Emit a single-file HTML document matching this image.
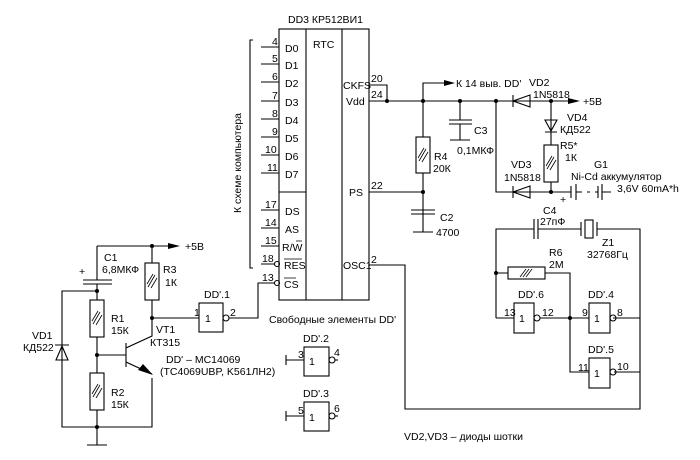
<!DOCTYPE html>
<html><head><meta charset="utf-8"><style>
html,body{margin:0;padding:0;background:#fff;}
svg{display:block}
text{font-family:"Liberation Sans","DejaVu Sans",sans-serif;font-size:10.5px;fill:#000}
</style></head><body>
<svg width="700" height="460" viewBox="0 0 700 460" xmlns="http://www.w3.org/2000/svg">
<defs>
<g id="hatch"><line x1="-4" y1="6" x2="3" y2="-6"/><line x1="-1" y1="7" x2="5" y2="-3"/><line x1="-5" y1="3" x2="1" y2="-7"/></g>
</defs>
<g stroke="#000" stroke-width="1.1" fill="none">
<rect x="279" y="29" width="90" height="271"/>
<line x1="306" y1="29" x2="306" y2="300"/>
<line x1="342" y1="29" x2="342" y2="300"/>
<line x1="279" y1="192" x2="306" y2="192"/>
<path d="M261 47H279M261 64H279M261 82H279M261 101H279M261 119H279M261 137H279M261 155H279M261 173H279M261 210H279M261 228H279M261 246H279M261 264H275M261 283H275"/>
<circle cx="277" cy="264" r="2.5"/><circle cx="277" cy="283" r="2.5"/>
<path d="M253 40H250V268H253"/>
<path d="M369 85H387V101M369 101H551M369 192H423M369 265H405V409H640V372H614"/>
<path d="M423 101V83H444"/>
<path d="M530 95V107L513 101Z M513 95V107"/>
<path d="M551 101H568"/>
<path d="M460 101V120M449 120H472M449 124H472M460 124V140M450 140H470"/>
<path d="M423 101V137M423 173V232"/>
<rect x="416" y="137" width="14" height="36"/>
<path d="M411 210H435M411 214H435M413 232H433"/>
<path d="M496 101V192H551"/>
<path d="M530 186V198L513 192Z M513 186V198"/>
<path d="M551 101V145M545 120H557L551 131ZM545 132H557"/>
<rect x="544" y="145" width="14" height="37"/>
<path d="M551 182V192H571M571 186V198M576 184V200M576 192H582M587 192H590M595 192H598M598 186V198M602 184V200M602 192H611"/>
<path d="M496 318V229H534M534 219V239M538 219V239M538 229H581M581 222V236M597 222V236M597 229H640V372"/>
<rect x="585" y="220" width="8" height="18"/>
<rect x="508" y="267" width="37" height="12"/>
<path d="M496 273H508M545 273H570V372H589"/>
<path d="M496 318H514M540 318H589M613 318H640"/>
<rect x="514" y="303" width="20" height="30"/><circle cx="537" cy="318" r="3"/>
<rect x="589" y="303" width="21" height="30"/><circle cx="613" cy="318" r="3"/>
<rect x="589" y="358" width="21" height="30"/><circle cx="613" cy="372" r="3"/>
<path d="M97 246H168M97 246V280M83 280H112M83 284H112M97 284V300M97 291H62V427H152V378M97 337V373M97 410V445M87 445H107"/>
<rect x="90" y="300" width="14" height="37"/>
<rect x="90" y="373" width="14" height="37"/>
<path d="M152 246V263M152 300V336L126 348M126 343V367M97 355H126M126 362L152 374"/>
<rect x="145" y="263" width="14" height="37"/>
<path d="M62 346L56 360H68Z M55 345H69"/>
<path d="M152 318H199M229 318H258V283H275"/>
<rect x="199" y="303" width="24" height="29"/><circle cx="226" cy="318" r="3"/>
<path d="M286 355V365M286 360H304M286 411V421M286 416H304"/>
<rect x="304" y="347" width="25" height="29"/><circle cx="332" cy="360" r="3"/><path d="M335 360H338"/>
<rect x="304" y="402" width="25" height="29"/><circle cx="332" cy="416" r="3"/><path d="M335 416H338"/>
</g>
<g fill="#000">
<path d="M444 80L455 83L444 86Z"/>
<path d="M568 98L580 101L568 104Z"/>
<path d="M168 243L180 246L168 249Z"/>
<path d="M143 364L153 375L138 370Z"/>
<circle cx="387" cy="101" r="2"/><circle cx="423" cy="101" r="2"/><circle cx="460" cy="101" r="2"/><circle cx="496" cy="101" r="2"/><circle cx="551" cy="101" r="2"/>
<circle cx="423" cy="192" r="2"/><circle cx="551" cy="192" r="2"/>
<circle cx="496" cy="273" r="2"/><circle cx="570" cy="318" r="2"/>
<circle cx="152" cy="246" r="2"/><circle cx="97" cy="291" r="2"/><circle cx="97" cy="355" r="2"/><circle cx="97" cy="427" r="2"/><circle cx="152" cy="318" r="2"/>
</g>
<g stroke="#000" stroke-width="0.8">
<use href="#hatch" x="423" y="155"/><use href="#hatch" x="551" y="163"/>
<use href="#hatch" x="97" y="318"/><use href="#hatch" x="97" y="391"/><use href="#hatch" x="152" y="281"/>
<line x1="520" y1="277" x2="526" y2="269"/><line x1="523" y1="277" x2="529" y2="269"/><line x1="526" y1="277" x2="532" y2="269"/>
</g>
<text x="288" y="23">DD3 КР512ВИ1</text>
<text x="313" y="48">RTC</text>
<text x="272" y="45" font-size="10">4</text><text x="272" y="62" font-size="10">5</text><text x="272" y="80" font-size="10">6</text><text x="272" y="99" font-size="10">7</text><text x="272" y="117" font-size="10">8</text><text x="272" y="135" font-size="10">9</text><text x="265" y="153" font-size="10">10</text><text x="267" y="171" font-size="10">11</text>
<text x="265" y="208" font-size="10">17</text><text x="265" y="226" font-size="10">14</text><text x="265" y="244" font-size="10">15</text><text x="262" y="262" font-size="10">18</text><text x="262" y="281" font-size="10">13</text>
<text x="285" y="52">D0</text><text x="285" y="69">D1</text><text x="285" y="87">D2</text><text x="285" y="106">D3</text><text x="285" y="124">D4</text><text x="285" y="142">D5</text><text x="285" y="160">D6</text><text x="285" y="178">D7</text>
<text x="285" y="215">DS</text><text x="285" y="233">AS</text><text x="282" y="251">R/W</text><text x="284" y="269">RES</text><text x="284" y="288">CS</text>
<path d="M296 241H302M284 259H302M284 278H296" stroke="#000" stroke-width="0.8"/>
<text x="343" y="89">CKFS</text><text x="346" y="105">Vdd</text><text x="349" y="196">PS</text><text x="343" y="269">OSC1</text>
<text x="371" y="82" font-size="10">20</text><text x="371" y="98" font-size="10">24</text><text x="371" y="189" font-size="10">22</text><text x="371" y="263" font-size="10">2</text>
<text transform="translate(241,213) rotate(-90)">К схеме компьютера</text>
<text x="456" y="87">К 14 выв. DD'</text>
<text x="529" y="86">VD2</text><text x="533" y="98">1N5818</text><text x="583" y="105">+5В</text>
<text x="474" y="134">C3</text><text x="457" y="154">0,1МКФ</text>
<text x="434" y="160">R4</text><text x="433" y="172">20К</text>
<text x="440" y="221">C2</text><text x="436" y="236">4700</text>
<text x="567" y="121">VD4</text><text x="560" y="133">КД522</text>
<text x="560" y="149">R5*</text><text x="565" y="161">1К</text>
<text x="511" y="168">VD3</text><text x="504" y="181">1N5818</text>
<text x="594" y="168">G1</text><text x="571" y="180">Ni-Cd аккумулятор</text><text x="617" y="192">3,6V 60mA*h</text>
<text x="560" y="203" font-size="12">+</text>
<text x="543" y="214">C4</text><text x="540" y="225">27пФ</text>
<text x="602" y="246">Z1</text><text x="587" y="258">32768Гц</text>
<text x="549" y="256">R6</text><text x="549" y="268">2М</text>
<text x="518" y="298">DD'.6</text><text x="588" y="298">DD'.4</text><text x="588" y="353">DD'.5</text>
<text x="519" y="322">1</text><text x="594" y="322">1</text><text x="594" y="377">1</text>
<text x="504" y="316" font-size="10">13</text><text x="542" y="316" font-size="10">12</text><text x="582" y="316" font-size="10">9</text><text x="617" y="316" font-size="10">8</text>
<text x="578" y="371" font-size="10">11</text><text x="617" y="370" font-size="10">10</text>
<text x="404" y="440">VD2,VD3 – диоды шотки</text>
<text x="185" y="250">+5В</text>
<text x="104" y="261">C1</text><text x="102" y="273">6,8МКФ</text>
<text x="79" y="275" font-size="12">+</text>
<text x="163" y="273">R3</text><text x="165" y="286">1К</text>
<text x="111" y="322">R1</text><text x="111" y="334">15К</text>
<text x="111" y="396">R2</text><text x="111" y="408">15К</text>
<text x="32" y="339">VD1</text><text x="23" y="351">КД522</text>
<text x="156" y="333">VT1</text><text x="150" y="346">КТ315</text>
<text x="166" y="363">DD' – MC14069</text><text x="160" y="375">(TC4069UBP, K561ЛН2)</text>
<text x="204" y="298">DD'.1</text><text x="205" y="322">1</text>
<text x="194" y="316" font-size="10">1</text><text x="230" y="316" font-size="10">2</text>
<text x="269" y="323">Свободные элементы DD'</text>
<text x="303" y="342">DD'.2</text><text x="303" y="397">DD'.3</text>
<text x="309" y="365">1</text><text x="309" y="421">1</text>
<text x="298" y="358" font-size="10">3</text><text x="334" y="356" font-size="10">4</text>
<text x="298" y="414" font-size="10">5</text><text x="334" y="412" font-size="10">6</text>
</svg>
</body></html>
